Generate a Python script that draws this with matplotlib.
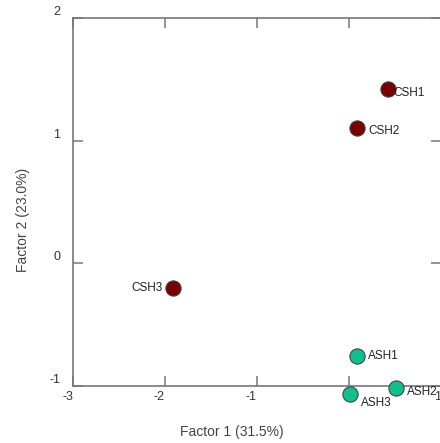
import numpy as np
import matplotlib.pyplot as plt

plt.rcParams['font.family'] = ['Liberation Sans', 'DejaVu Sans']

names = ['CSH1', 'CSH2', 'CSH3', 'ASH1', 'ASH2', 'ASH3']
factor1 = [0.42, 0.09, -1.91, 0.09, 0.51, 0.01]
factor2 = [1.42, 1.10, -0.20, -0.76, -1.015, -1.07]
groups = ['C', 'C', 'C', 'A', 'A', 'A']

colors = {'C': '#7a0000', 'A': '#0fc08e'}
# label offsets in points (dx, dy, ha)
label_pos = {
    'CSH1': (4, -3, 'left'),
    'CSH2': (8, -2, 'left'),
    'CSH3': (-8, 0, 'right'),
    'ASH1': (8, 0, 'left'),
    'ASH2': (8, -3, 'left'),
    'ASH3': (8, -6, 'left'),
}

fig = plt.figure(figsize=(4.4, 4.43), dpi=100)
ax = fig.add_axes([0.166, 0.129, 0.836, 0.830])

for n, x, y, g in zip(names, factor1, factor2, groups):
    ax.scatter(x, y, s=120, color=colors[g], edgecolor='#444444',
               linewidth=0.8, zorder=3, clip_on=False)
    dx, dy, ha = label_pos[n]
    ax.annotate(n, (x, y), xytext=(dx, dy), textcoords='offset points',
                ha=ha, va='center', fontsize=8.5, color='#222222',
                annotation_clip=False)

ax.set_xlim(-3, 1)
ax.set_ylim(-1, 2)
ax.set_xticks([-3, -2, -1, 0, 1])
ax.set_xticklabels(['-3', '-2', '-1', '', '1'], ha='right')
ax.set_yticks([-1, 0, 1, 2])
ax.set_yticklabels(['-1', '0', '1', '2'], va='bottom')

for s in ax.spines.values():
    s.set_color('#777777')
    s.set_linewidth(1.2)

ax.tick_params(direction='in', length=7, width=1.1, color='#777777',
               labelsize=9, labelcolor='#333333', top=True, right=True)
ax.tick_params(axis='x', pad=4)
ax.tick_params(axis='y', pad=9)

fig.text(0.527, 0.025, 'Factor 1 (31.5%)', ha='center', va='center',
         fontsize=10, color='#444444')
fig.text(0.052, 0.503, 'Factor 2 (23.0%)', ha='center', va='center',
         rotation=90, fontsize=10, color='#444444')

fig.savefig('out.png', dpi=100)
